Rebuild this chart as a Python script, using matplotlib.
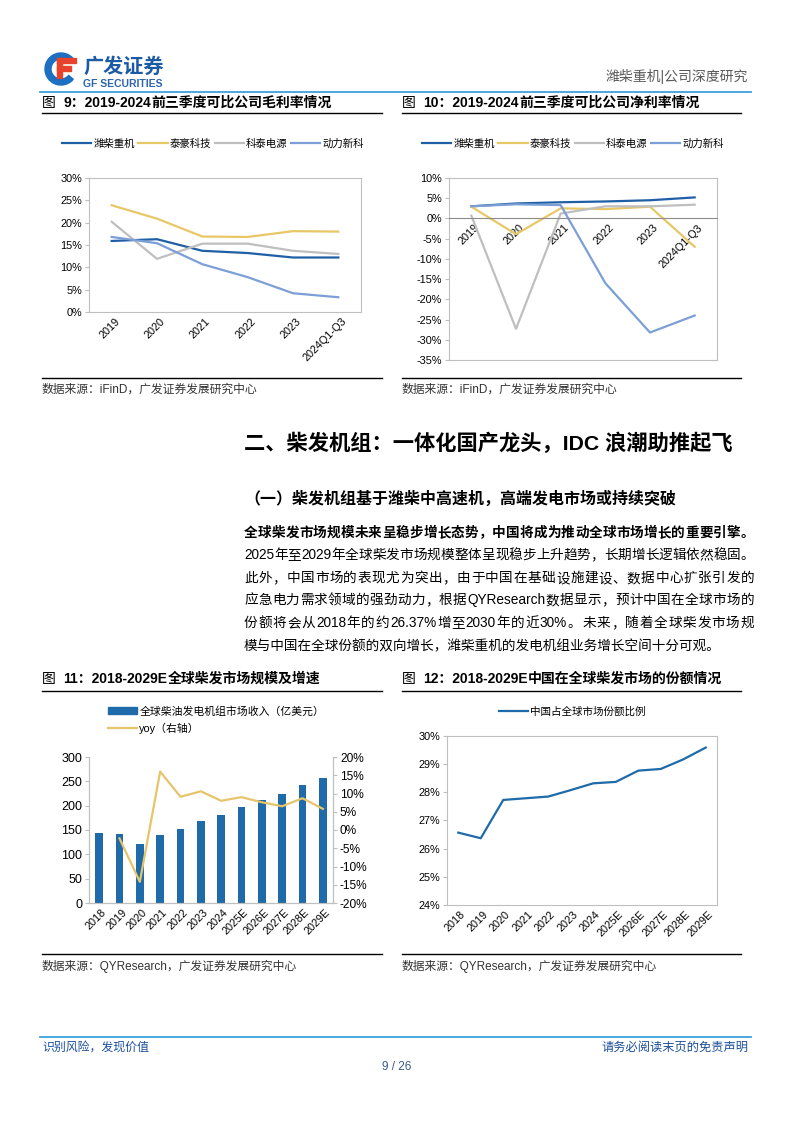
import re
import numpy as np
import matplotlib
matplotlib.use('Agg')
import matplotlib.pyplot as plt
from matplotlib.lines import Line2D
from matplotlib.patches import Patch, Wedge, Rectangle
from matplotlib.ticker import FuncFormatter
from matplotlib.transforms import ScaledTranslation

plt.rcParams['font.family'] = ['Liberation Sans', 'Noto Sans CJK SC', 'DejaVu Sans']
plt.rcParams['axes.unicode_minus'] = False

# ---- 数据 ----
comp_names = ['潍柴重机', '泰豪科技', '科泰电源', '动力新科']
years_a = ['2019', '2020', '2021', '2022', '2023', '2024Q1-Q3']
gm_wc = [15.9, 16.3, 13.7, 13.2, 12.2, 12.2]
gm_th = [23.9, 20.9, 16.9, 16.8, 18.1, 18.0]
gm_kt = [20.2, 11.9, 15.3, 15.3, 13.7, 13.0]
gm_dl = [16.8, 15.4, 10.7, 7.8, 4.2, 3.3]
nm_wc = [3.0, 3.7, 4.0, 4.2, 4.5, 5.2]
nm_th = [2.9, -3.9, 2.5, 2.3, 2.9, -7.0]
nm_kt = [0.7, -27.3, 1.2, 3.0, 3.0, 3.4]
nm_dl = [3.0, 3.5, 3.3, -16.0, -28.2, -24.0]

years_b = ['2018', '2019', '2020', '2021', '2022', '2023', '2024',
           '2025E', '2026E', '2027E', '2028E', '2029E']
revenue = [144, 141, 121, 140, 152, 168, 181, 197, 211, 225, 243, 257]
yoy = [np.nan, -2.3, -14.2, 16.0, 9.1, 10.6, 8.0, 9.0, 7.6, 6.5, 8.7, 5.8]
share = [26.57, 26.37, 27.73, 27.79, 27.85, 28.08, 28.32, 28.37, 28.77, 28.83, 29.17, 29.59]

comp_colors = ['#1f5fa6', '#e8c766', '#bfbfbf', '#7b9fd6']
bar_color = '#1f6aa8'
box_color = '#bfbfbf'

W, H = 794, 1123
fig = plt.figure(figsize=(W / 100, H / 100), dpi=100)


def fx(x):
    return x / W


def fy(y):
    return 1 - y / H


def add_ax(l, t, r, b):
    return fig.add_axes([l / W, 1 - b / H, (r - l) / W, (b - t) / H])


def hline(x1, x2, y, color='black', lw=1.0):
    fig.add_artist(Line2D([fx(x1), fx(x2)], [fy(y), fy(y)], transform=fig.transFigure,
                          color=color, lw=lw))


def runs(x, y, parts):
    # 依次排布多段不同样式的文字
    r = fig.canvas.get_renderer()
    for s, kw in parts:
        t = fig.text(fx(x), fy(y), s, va='center', **kw)
        x += t.get_window_extent(r).width


def justify(x0, x1, y, s, **kw):
    # 两端对齐的一行正文
    toks = re.findall(r'[A-Za-z0-9.%]+|.', s)
    arts = [fig.text(0, fy(y), t, va='center', **kw) for t in toks]
    r = fig.canvas.get_renderer()
    ws = [a.get_window_extent(r).width for a in arts]
    gap = ((x1 - x0) - sum(ws)) / max(len(toks) - 1, 1)
    x = x0
    for a, w in zip(arts, ws):
        a.set_x(fx(x))
        x += w + gap


pct = FuncFormatter(lambda v, p: '%d%%' % round(v))

# ---- 页眉 ----
logo = add_ax(40, 50, 90, 90)
logo.set_xlim(40, 90)
logo.set_ylim(90, 50)
logo.axis('off')
logo.add_patch(Wedge((61, 69), 16, 40, 320, width=6, color='#1d6fc2'))
logo.add_patch(Rectangle((57, 58), 5, 20, color='#e8412c'))
logo.add_patch(Rectangle((57, 58), 19, 5, color='#e8412c'))
logo.add_patch(Rectangle((57, 66), 14, 4.5, color='#e8412c'))
fig.text(fx(83), fy(67), '广发证券', fontsize=14.5, fontweight='bold', color='#1b5ba6', va='center')
fig.text(fx(83), fy(84), 'GF SECURITIES', fontsize=7.5, fontweight='bold', color='#2a65ae', va='center')
fig.text(fx(748), fy(77), '潍柴重机|公司深度研究', fontsize=10, color='#595959', ha='right', va='center')
hline(40, 751, 92, color='#3aa0db', lw=1.3)

title_kw_n = dict(fontsize=10, color='black')
title_kw_b = dict(fontsize=10, color='black', fontweight='bold')
runs(42, 103, [('图  ', title_kw_n), ('9：2019-2024', title_kw_b), ('前三季度可比公司毛利率情况', title_kw_b)])
runs(402, 103, [('图  ', title_kw_n), ('10：2019-2024', title_kw_b), ('前三季度可比公司净利率情况', title_kw_b)])
hline(42, 382, 113)
hline(402, 741, 113)


def style_box(ax):
    for sp in ax.spines.values():
        sp.set_color(box_color)
        sp.set_linewidth(0.8)
    ax.tick_params(axis='y', length=3, color=box_color, labelsize=7.8, pad=2)
    ax.tick_params(axis='x', length=0, labelsize=7.8, pad=3)


def rot_labels(ax, labels, dx=3):
    ax.set_xticks(range(len(labels)))
    ax.set_xticklabels(labels, rotation=45, ha='right', rotation_mode='anchor')
    off = ScaledTranslation(dx / 100, 0, fig.dpi_scale_trans)
    for lab in ax.get_xticklabels():
        lab.set_transform(lab.get_transform() + off)


def comp_legend(ax, x):
    hs = [Line2D([], [], color=c, lw=1.6) for c in comp_colors]
    fig.legend(hs, comp_names, loc='center left', bbox_to_anchor=(fx(x), fy(144)),
               ncol=4, frameon=False, fontsize=7.5, handlelength=2.8, handletextpad=0.2,
               columnspacing=0.35, borderaxespad=0, borderpad=0)


# ---- 图9 毛利率 ----
ax1 = add_ax(89, 178, 361, 312)
for vals, c in zip([gm_wc, gm_th, gm_kt, gm_dl], comp_colors):
    ax1.plot(range(len(years_a)), vals, color=c, lw=1.6)
ax1.set_xlim(-0.5, 5.5)
ax1.set_ylim(0, 30)
ax1.set_yticks(np.arange(0, 31, 5))
ax1.yaxis.set_major_formatter(pct)
style_box(ax1)
rot_labels(ax1, years_a)
comp_legend(ax1, 62)

# ---- 图10 净利率 ----
ax2 = add_ax(449, 178, 717, 360)
for vals, c in zip([nm_wc, nm_th, nm_kt, nm_dl], comp_colors):
    ax2.plot(range(len(years_a)), vals, color=c, lw=1.6)
ax2.set_xlim(-0.5, 5.5)
ax2.set_ylim(-35, 10)
ax2.set_yticks(np.arange(-35, 11, 5))
ax2.yaxis.set_major_formatter(pct)
style_box(ax2)
ax2.spines['bottom'].set_position(('data', 0))
ax2.spines['bottom'].set_color('#8c8c8c')
ax2.axhline(-35, color=box_color, lw=0.8, clip_on=False)
rot_labels(ax2, years_a)
comp_legend(ax2, 422)

src_kw = dict(fontsize=8.5, color='#333333')
hline(42, 382, 378)
hline(402, 741, 378)
fig.text(fx(42), fy(390), '数据来源：iFinD，广发证券发展研究中心', va='center', **src_kw)
fig.text(fx(402), fy(390), '数据来源：iFinD，广发证券发展研究中心', va='center', **src_kw)

# ---- 正文 ----
fig.text(fx(244), fy(443), '二、柴发机组：一体化国产龙头，IDC 浪潮助推起飞', fontsize=15.3,
         fontweight='bold', va='center')
fig.text(fx(244), fy(499), '（一）柴发机组基于潍柴中高速机，高端发电市场或持续突破', fontsize=11.5,
         fontweight='bold', va='center')
body = [
    '全球柴发市场规模未来呈稳步增长态势，中国将成为推动全球市场增长的重要引擎。',
    '2025年至2029年全球柴发市场规模整体呈现稳步上升趋势，长期增长逻辑依然稳固。',
    '此外，中国市场的表现尤为突出，由于中国在基础设施建设、数据中心扩张引发的',
    '应急电力需求领域的强劲动力，根据QYResearch数据显示，预计中国在全球市场的',
    '份额将会从2018年的约26.37%增至2030年的近30%。未来，随着全球柴发市场规',
    '模与中国在全球份额的双向增长，潍柴重机的发电机组业务增长空间十分可观。',
]
body_y = [533, 555, 578, 600, 623, 646]
for i, (s, y) in enumerate(zip(body, body_y)):
    kw = dict(fontsize=9.8, color='black')
    if i == 0:
        kw['fontweight'] = 'bold'
    if i == len(body) - 1:
        fig.text(fx(244), fy(y), s, va='center', **kw)
    else:
        justify(244, 754, y, s, **kw)

runs(42, 679, [('图  ', title_kw_n), ('11：2018-2029E', title_kw_b), ('全球柴发市场规模及增速', title_kw_b)])
runs(402, 679, [('图  ', title_kw_n), ('12：2018-2029E', title_kw_b), ('中国在全球柴发市场的份额情况', title_kw_b)])
hline(42, 382, 691)
hline(402, 741, 691)

# ---- 图11 全球柴发市场规模 ----
ax3 = add_ax(89, 757, 333, 903)
xb = np.arange(len(years_b))
bars = ax3.bar(xb, revenue, width=0.38, color=bar_color)
ax3.set_xlim(-0.5, 11.5)
ax3.set_ylim(0, 300)
ax3.set_yticks(np.arange(0, 301, 50))
ax3r = ax3.twinx()
ln, = ax3r.plot(xb, yoy, color='#e6c46a', lw=1.6)
ax3r.set_ylim(-20, 20)
ax3r.set_yticks(np.arange(-20, 21, 5))
ax3r.yaxis.set_major_formatter(pct)
for a in (ax3, ax3r):
    for sp in a.spines.values():
        sp.set_color(box_color)
        sp.set_linewidth(0.8)
    a.spines['top'].set_visible(False)
    a.tick_params(axis='y', length=3, color=box_color, pad=2)
ax3.tick_params(axis='y', labelsize=9)
ax3r.tick_params(axis='y', labelsize=8.6)
ax3.tick_params(axis='x', length=0, labelsize=7.8, pad=3)
rot_labels(ax3, years_b, dx=2)
fig.legend([Patch(color=bar_color), Line2D([], [], color='#e6c46a', lw=1.6)],
           ['全球柴油发电机组市场收入（亿美元）', 'yoy（右轴）'],
           loc='upper left', bbox_to_anchor=(fx(108), fy(706)), frameon=False,
           fontsize=7.8, handlelength=2.7, handleheight=0.6, handletextpad=0.2,
           labelspacing=0.55, borderaxespad=0, borderpad=0)

# ---- 图12 中国份额 ----
ax4 = add_ax(447, 736, 717, 905)
ax4.plot(xb, share, color=bar_color, lw=1.6)
ax4.set_xlim(-0.5, 11.5)
ax4.set_ylim(24, 30)
ax4.set_yticks(np.arange(24, 31, 1))
ax4.yaxis.set_major_formatter(pct)
style_box(ax4)
rot_labels(ax4, years_b, dx=2)
fig.legend([Line2D([], [], color=bar_color, lw=1.6)], ['中国占全球市场份额比例'],
           loc='center left', bbox_to_anchor=(fx(499), fy(712)), frameon=False,
           fontsize=7.6, handlelength=2.7, handletextpad=0.2, borderaxespad=0, borderpad=0)

src2 = '数据来源：QYResearch，广发证券发展研究中心'
hline(42, 382, 954)
hline(402, 741, 954)
fig.text(fx(42), fy(966), src2, va='center', **src_kw)
fig.text(fx(402), fy(966), src2, va='center', **src_kw)

# ---- 页脚 ----
hline(40, 751, 1037, color='#3aa0db', lw=1.3)
fig.text(fx(42), fy(1048), '识别风险，发现价值', fontsize=8.6, color='#1b4f9c', va='center')
fig.text(fx(748), fy(1048), '请务必阅读末页的免责声明', fontsize=8.8, color='#1b4f9c', ha='right', va='center')
fig.text(fx(397), fy(1067), '9 / 26', fontsize=8.5, color='#3c5a8c', ha='center', va='center')

fig.savefig('out.png', dpi=100)
